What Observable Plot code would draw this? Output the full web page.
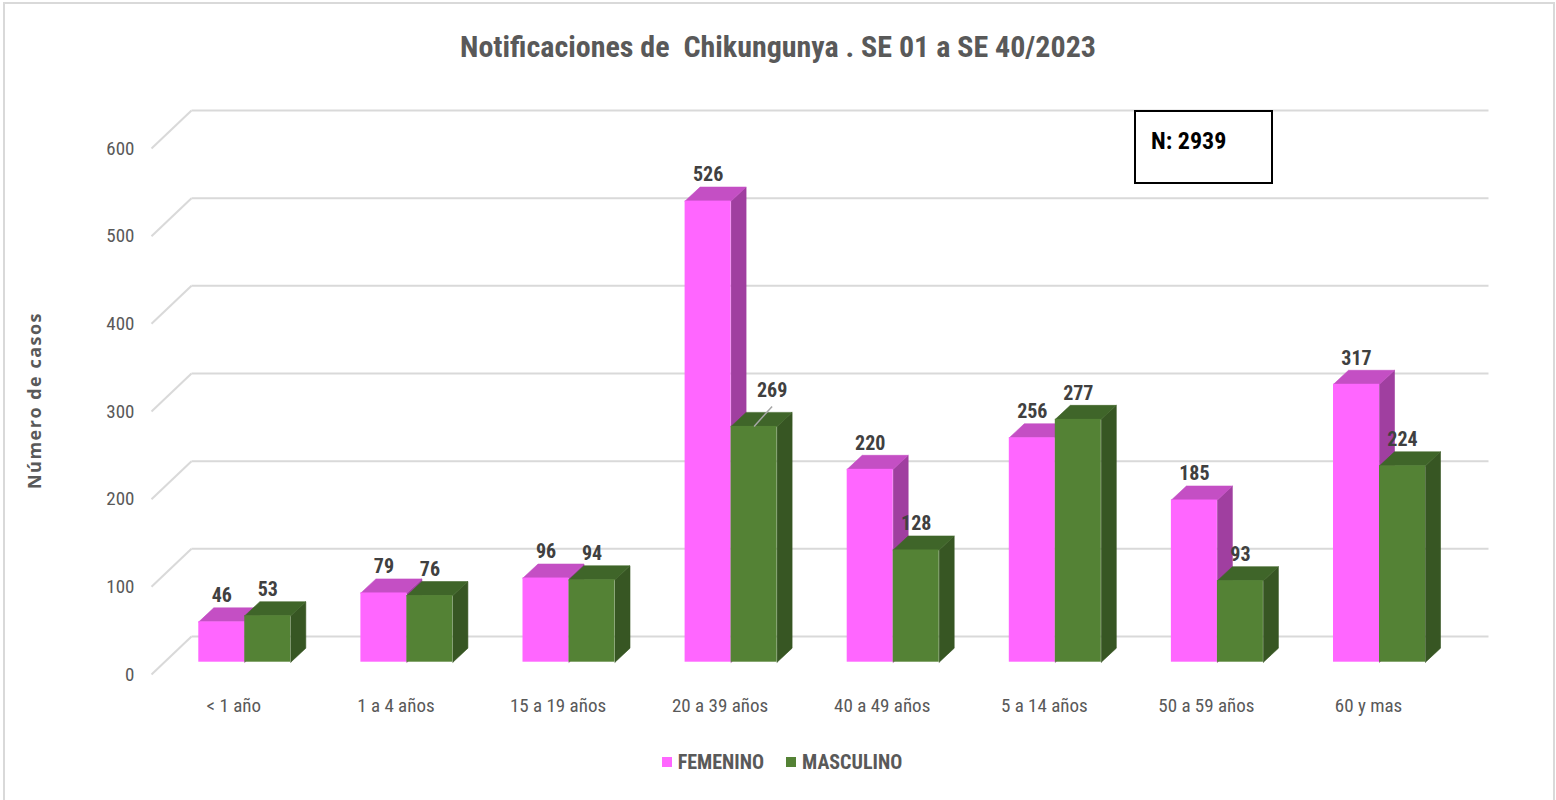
<!DOCTYPE html>
<html>
<head>
<meta charset="utf-8">
<script src="https://cdn.jsdelivr.net/npm/d3@7"></script>
<script src="https://cdn.jsdelivr.net/npm/@observablehq/plot@0.6"></script>
<style>
  html, body { margin: 0; padding: 0; background: #fff; }
  body { font-family: "Liberation Sans Narrow", "Roboto Condensed", Roboto, sans-serif; }
  #wrap { position: relative; width: 1556px; height: 800px; overflow: hidden; }
  #border { position: absolute; left: 3px; top: 2px; width: 1552px; height: 830px; border: 2px solid #d9d9d9; box-sizing: border-box; pointer-events: none; }
  #title { height: 90px; line-height: 94px; text-align: center; white-space: pre; color: #595959; font-size: 30px; font-weight: bold; }
  #chart { height: 650px; }
  #chart svg { display: block; }
  #legend { height: 44px; display: flex; justify-content: center; align-items: center; gap: 22px; padding-left: 8px; color: #595959; font-size: 20px; font-weight: bold; }
  #legend .item { display: flex; align-items: center; gap: 6px; }
  #legend .sw { width: 10px; height: 10px; display: inline-block; }
  #nbox { position: absolute; left: 1134px; top: 110px; width: 139px; height: 74px; border: 2px solid #000; box-sizing: border-box; background: #fff; font-weight: bold; font-size: 24px; color: #000; padding-left: 15px; line-height: 58px; }
</style>
</head>
<body>
<div id="wrap">
  <div id="title"></div>
  <div id="chart"></div>
  <div id="legend"></div>
  <div id="nbox"></div>
  <div id="border"></div>
</div>
<script>
// ---------- data ----------
const titleText = "Notificaciones de  Chikungunya . SE 01 a SE 40/2023";
const yLabel = "Número de casos";
const categories = ["< 1 año", "1 a 4 años", "15 a 19 años", "20 a 39 años", "40 a 49 años", "5 a 14 años", "50 a 59 años", "60 y mas"];
const seriesNames = ["FEMENINO", "MASCULINO"];
const femenino = [46, 79, 96, 526, 220, 256, 185, 317];
const masculino = [53, 76, 94, 269, 128, 277, 93, 224];
const yTicks = [0, 100, 200, 300, 400, 500, 600];
const totalN = 2939;
// label that Excel had moved aside with a leader line
const movedLabels = [{series: "MASCULINO", category: "20 a 39 años"}];

// ---------- styling / layout ----------
const FONT = '"Liberation Sans Narrow", "Roboto Condensed", Roboto, sans-serif';
const colors = {
  FEMENINO: {front: "#ff66ff", top: "#c44fc4", side: "#a03fa0"},
  MASCULINO: {front: "#548235", top: "#3f6529", side: "#375623"}
};
const XUNIT = 162.1;            // px per category
const YUNIT = 0.8767;           // px per case
const W = 46 / XUNIT;           // bar width in category units
const DX = 15 / XUNIT, DY = 14 / YUNIT;   // bar depth
const GDX = 40 / XUNIT, GDY = 38 / YUNIT; // wall depth
const BASE = 12.3 / YUNIT;      // bars stand slightly behind the front axis plane
const marginLeft = 151, marginRight = 68;
const X0 = (marginLeft - 244.3) / XUNIT;
const X1 = (1556 - marginRight - 244.3) / XUNIT;

// ---------- build geometry from data ----------
const values = {FEMENINO: femenino, MASCULINO: masculino};
const bars = [];
seriesNames.forEach((s, si) => {
  categories.forEach((c, i) => {
    const x0 = i - W + si * W;
    bars.push({series: s, category: c, i, v: values[s][i], x0, x1: x0 + W, y0: BASE, y1: BASE + values[s][i]});
  });
});
function topPoly(b) {
  return [[b.x0, b.y1], [b.x1, b.y1], [b.x1 + DX, b.y1 + DY], [b.x0 + DX, b.y1 + DY], [b.x0, b.y1]]
    .map(([x, y]) => ({x, y, id: b.series + b.i}));
}
function sidePoly(b) {
  return [[b.x1, b.y0], [b.x1, b.y1], [b.x1 + DX, b.y1 + DY], [b.x1 + DX, b.y0 + DY], [b.x1, b.y0]]
    .map(([x, y]) => ({x, y, id: b.series + b.i}));
}
const isMoved = b => movedLabels.some(m => m.series === b.series && m.category === b.category);

const marks = [];
// back wall gridlines with the 3D diagonal
marks.push(Plot.link(yTicks, {x1: () => X0, y1: d => d, x2: () => X0 + GDX, y2: d => d + GDY, stroke: "#d9d9d9", strokeWidth: 2}));
marks.push(Plot.link(yTicks, {x1: () => X0 + GDX, y1: d => d + GDY, x2: () => X1, y2: d => d + GDY, stroke: "#d9d9d9", strokeWidth: 2}));
// bars
seriesNames.forEach(s => {
  const bs = bars.filter(b => b.series === s);
  const col = colors[s];
  marks.push(Plot.line(bs.flatMap(sidePoly), {x: "x", y: "y", z: "id", fill: col.side, stroke: col.side, strokeWidth: 0.6, curve: "linear"}));
  marks.push(Plot.line(bs.flatMap(topPoly), {x: "x", y: "y", z: "id", fill: col.top, stroke: col.top, strokeWidth: 0.6, curve: "linear"}));
  marks.push(Plot.rect(bs, {x1: "x0", x2: "x1", y1: "y0", y2: "y1", fill: col.front}));
});
// value labels
const labelStyle = {fontSize: 20, fontWeight: "bold", fill: "#404040", textAnchor: "middle", lineAnchor: "middle"};
marks.push(Plot.text(bars.filter(b => !isMoved(b)), {x: b => (b.x0 + b.x1) / 2, y: "y1", text: b => String(b.v), dy: -26, ...labelStyle}));
const moved = bars.filter(isMoved);
marks.push(Plot.link(moved, {x1: b => (b.x0 + b.x1) / 2, y1: "y1", x2: b => (b.x0 + b.x1) / 2 + 18 / XUNIT, y2: b => b.y1 + 20 / YUNIT, stroke: "#a6a6a6", strokeWidth: 1.5}));
marks.push(Plot.text(moved, {x: b => (b.x0 + b.x1) / 2, y: "y1", text: b => String(b.v), dx: 18, dy: -36, ...labelStyle}));
// category labels
marks.push(Plot.text(categories, {x: (d, i) => i, y: () => 0, text: d => d, dx: -11, dy: 31, fontSize: 19, fill: "#595959", textAnchor: "middle", lineAnchor: "middle"}));
// y axis
marks.push(Plot.axisY(yTicks, {tickSize: 0, tickPadding: 17, fontSize: 19, fill: "#595959", label: null}));
marks.push(Plot.text([yLabel], {frameAnchor: "left", rotate: -90, dx: -116, dy: -11, textAnchor: "middle", lineAnchor: "middle", fontSize: 18, fontWeight: "bold", fill: "#595959", fontFamily: '"Open Sans", Lato, sans-serif'}));

const chart = Plot.plot({
  width: 1556,
  height: 650,
  marginLeft, marginRight,
  marginTop: 58,
  marginBottom: 66,
  style: {fontFamily: FONT, background: "transparent", color: "#595959"},
  x: {type: "linear", domain: [X0, X1], axis: null},
  y: {type: "linear", domain: [0, 600], axis: null},
  marks
});
// slight letter spacing on the axis title, as in the original
d3.select(chart).selectAll("text").filter(function () { return this.textContent === yLabel; }).style("letter-spacing", "1.5px");
document.getElementById("chart").appendChild(chart);
document.getElementById("title").textContent = titleText;
document.getElementById("nbox").textContent = "N: " + totalN;
const legend = document.getElementById("legend");
seriesNames.forEach(s => {
  const it = document.createElement("span");
  it.className = "item";
  const sw = document.createElement("span");
  sw.className = "sw";
  sw.style.background = colors[s].front;
  const tx = document.createElement("span");
  tx.textContent = s;
  it.append(sw, tx);
  legend.append(it);
});
</script>
</body>
</html>
